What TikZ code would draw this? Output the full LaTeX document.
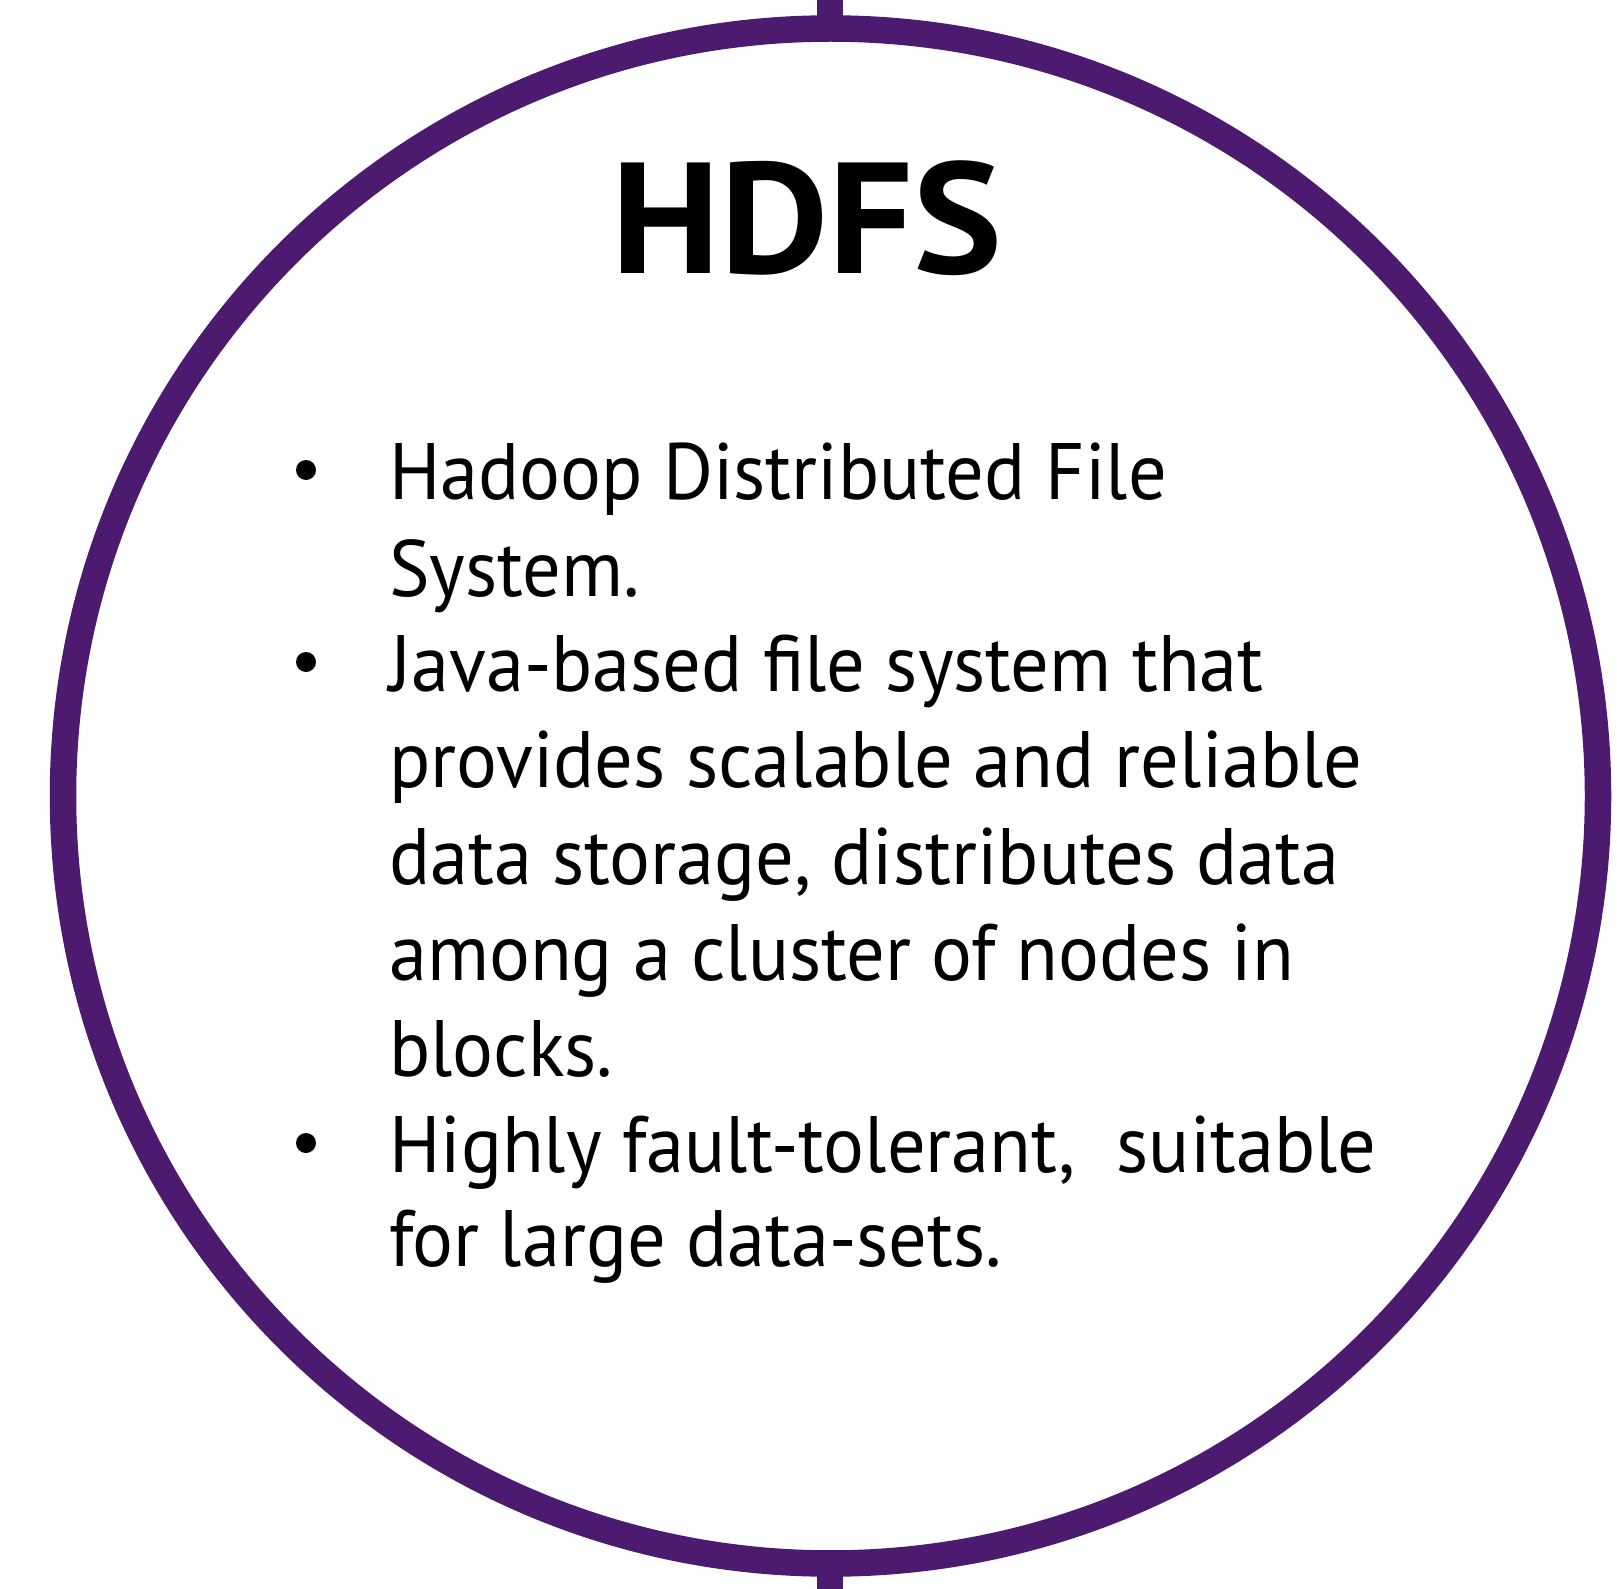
\documentclass[tikz,border=0pt]{standalone}
\usepackage{fontspec}
\setmainfont{PT Sans}
\definecolor{ringpurple}{RGB}{76,26,110}
\tikzset{
  ring/.style={draw=ringpurple, line width=26.5pt},
  stub/.style={fill=ringpurple, draw=none},
  bodyline/.style={anchor=base west, inner sep=0pt, font=\fontsize{80}{96}\selectfont\addfontfeature{FakeStretch=0.955}},
  dotmark/.style={circle, fill=black, minimum size=20pt, inner sep=0pt},
}
\begin{document}
\begin{tikzpicture}[x=1pt, y=-1pt]
  \useasboundingbox (0,0) rectangle (1617,1589);
  \clip (0,0) rectangle (1617,1589);
  % connector stubs above and below the ring
  \fill[stub] (817,0) rectangle (843,40);
  \fill[stub] (817,1550) rectangle (843,1589);
  % the ring
  \coordinate (c) at (830.5,796);
  \draw[ring] (c) circle[radius=767.5pt];
  % clipped letter at the left edge
  \node[anchor=base east, inner sep=0pt, font=\fontsize{52}{60}\selectfont] (edge) at (2,1070) {e};
  % title
  \node[anchor=base, inner sep=0pt, font=\bfseries\fontsize{158}{180}\selectfont\addfontfeature{FakeStretch=1.06}] (title) at (807,274) {HDFS};
  % bullet text
  \node[bodyline] (l1) at (389,499) {Hadoop Distributed File};
  \node[bodyline] (l2) at (389,596) {System.};
  \node[bodyline] (l3) at (389,691) {Java-based file system that};
  \node[bodyline] (l4) at (389,787) {provides scalable and reliable};
  \node[bodyline] (l5) at (389,884) {data storage, distributes data};
  \node[bodyline] (l6) at (389,980) {among a cluster of nodes in};
  \node[bodyline] (l7) at (389,1076) {blocks.};
  \node[bodyline] (l8) at (389,1172) {Highly fault-tolerant,\ \ suitable};
  \node[bodyline] (l9) at (389,1266) {for large data-sets.};
  % bullets
  \node[dotmark] (b1) at (306,470) {};
  \node[dotmark] (b2) at (306,662) {};
  \node[dotmark] (b3) at (306,1143) {};
\end{tikzpicture}
\end{document}
